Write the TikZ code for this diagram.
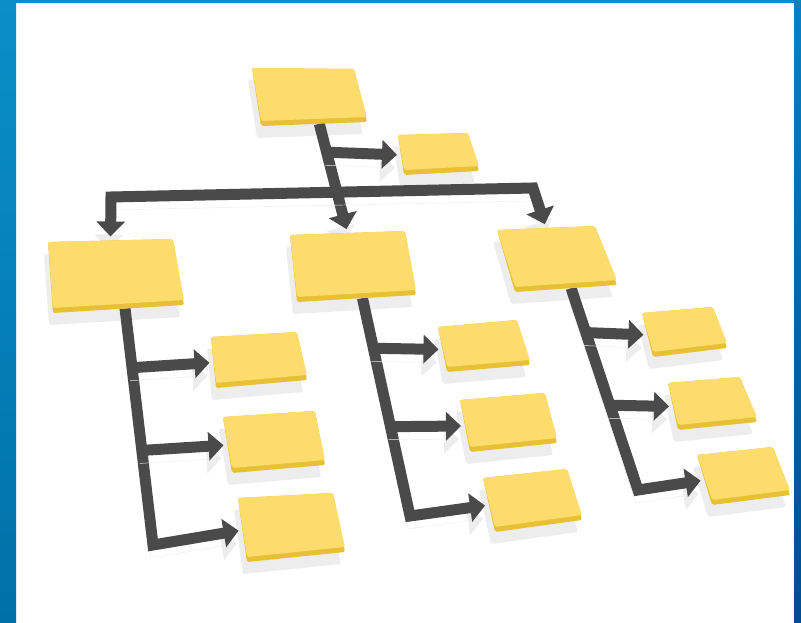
\documentclass[tikz,border=0pt]{standalone}
\usepackage{xcolor}
\usepackage{tikz}
\usetikzlibrary{arrows.meta,calc}
\definecolor{bandtop}{HTML}{0A8FC8}
\definecolor{bandmid}{HTML}{05ACDC}
\definecolor{bandlow}{HTML}{0070A8}
\definecolor{rimtop}{HTML}{0A80C0}
\definecolor{rimlow}{HTML}{004C8C}
\definecolor{arrowgray}{HTML}{4A4A4A}
\definecolor{panelface}{HTML}{FBDC6C}
\definecolor{paneledge}{HTML}{E8C033}
\definecolor{panelshade}{HTML}{EDEDED}
\pgfdeclarelayer{bg}
\pgfdeclarelayer{links}
\pgfsetlayers{bg,links,main}

% panel: name, top left, top right, bottom right, bottom left (pixels)
\newcommand{\panel}[5]{%
	\begin{pgfonlayer}{bg}
		\fill[panelshade,rounded corners=0.06cm] ([shift={(-4,12)}]#2) -- ([shift={(-4,12)}]#3) -- ([shift={(-4,12)}]#4) -- ([shift={(-4,12)}]#5) -- cycle;
	\end{pgfonlayer}
	\fill[paneledge,rounded corners=0.06cm] (#2) -- (#3) -- (#4) -- (#5) -- cycle;
	\fill[panelface,rounded corners=0.06cm] (#2) -- (#3) -- ([shift={(0,-5)}]#4) -- ([shift={(0,-5)}]#5) -- cycle;
	\coordinate (#1-n) at ($(#2)!0.5!(#3)$);
	\coordinate (#1-s) at ($(#5)!0.55!(#4)$);
	\coordinate (#1-w) at ($(#2)!0.5!(#5)$);
}

\begin{document}
\begin{tikzpicture}[x=0.03cm,y=-0.03cm, >={Triangle[width=0.84cm,length=0.45cm]},
	conn/.style={preaction={draw=panelshade, transform canvas={shift={(-0.06cm,-0.39cm)}}}, draw=arrowgray, line width=0.33cm, line join=miter, shorten >=0.12cm}]
	\useasboundingbox (0,0) rectangle (801,623);
	\begin{pgfonlayer}{bg}
		\fill[white] (0,0) rectangle (801,623);
		\shade[top color=bandtop, middle color=bandmid, bottom color=bandlow] (0,0) rectangle (16,623);
		\fill[bandtop] (0,0) rectangle (801,3);
		\shade[top color=rimtop, bottom color=rimlow] (794,0) rectangle (801,623);
	\end{pgfonlayer}

	\panel{top}{252,68}{354,69}{367,122}{261,126}
	\panel{side}{398,135}{468,133}{479,171}{404,175}
	\panel{ml}{48,242}{173,239}{184,305}{53,313}
	\panel{mc}{290,235}{405,231}{416,295}{297,302}
	\panel{mr}{497,230}{595,226}{617,285}{515,292}
	\panel{l1}{211,337}{297,332}{307,380}{216,388}
	\panel{l2}{223,417}{315,411}{325,465}{232,473}
	\panel{l3}{238,498}{333,493}{345,552}{247,562}
	\panel{c1}{438,327}{517,320}{530,365}{447,372}
	\panel{c2}{460,400}{545,393}{557,443}{470,452}
	\panel{c3}{483,478}{567,469}{582,520}{495,532}
	\panel{r1}{642,313}{713,307}{727,348}{653,357}
	\panel{r2}{668,383}{740,377}{757,422}{678,430}
	\panel{r3}{697,455}{773,447}{790,495}{712,505}

	% corners of the connectors
	\coordinate (barl) at (111,197);
	\coordinate (barr) at (533,188);
	\coordinate (lc) at (153,545);
	\coordinate (cc) at (410,516);
	\coordinate (rc) at (638,490);

	\begin{pgfonlayer}{links}
		% top level
		\draw[conn,->] (top-s) -- (mc-n);
		\draw[conn,->] ($(top-s)!0.26!(mc-n)$) -- (side-w);
		\draw[conn,<->,shorten <=0.12cm] (ml-n) -- (barl) -- (barr) -- (mr-n);

		% left column
		\draw[conn,->] (ml-s) -- (lc) -- (l3-w);
		\draw[conn,->] ($(ml-s)!0.25!(lc)$) -- (l1-w);
		\draw[conn,->] ($(ml-s)!0.6!(lc)$) -- (l2-w);

		% centre column
		\draw[conn,->] (mc-s) -- (cc) -- (c3-w);
		\draw[conn,->] ($(mc-s)!0.23!(cc)$) -- (c1-w);
		\draw[conn,->] ($(mc-s)!0.59!(cc)$) -- (c2-w);

		% right column
		\draw[conn,->] (mr-s) -- (rc) -- (r3-w);
		\draw[conn,->] ($(mr-s)!0.22!(rc)$) -- (r1-w);
		\draw[conn,->] ($(mr-s)!0.58!(rc)$) -- (r2-w);
	\end{pgfonlayer}
\end{tikzpicture}
\end{document}
